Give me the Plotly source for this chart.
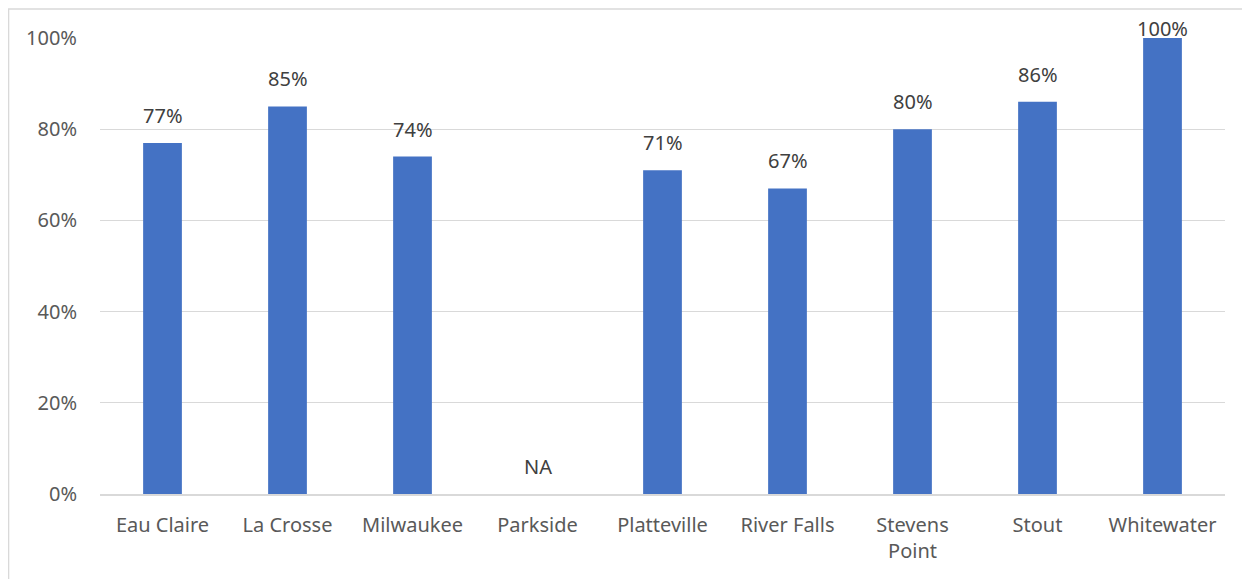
import plotly.graph_objects as go

campuses = ["Eau Claire", "La Crosse", "Milwaukee", "Parkside", "Platteville",
            "River Falls", "Stevens<br>Point", "Stout", "Whitewater"]
values = [77, 85, 74, None, 71, 67, 80, 86, 100]
labels = [f"{v}%" if v is not None else "NA" for v in values]
plot_values = [v if v is not None else 0 for v in values]
y_ticks = [0, 20, 40, 60, 80, 100]
y_tick_text = [f"{t}%" for t in y_ticks]

FONT = "Noto Sans"
GRAY = "#595959"
FS = 20

fig = go.Figure(go.Bar(
    x=campuses, y=plot_values,
    marker=dict(color="#4472C4", line=dict(width=0)),
    cliponaxis=False, showlegend=False, hoverinfo="x+y",
))

ymax = 100
annotations = []
for c, v, t in zip(campuses, plot_values, labels):
    annotations.append(dict(
        x=c, y=v, xref="x", yref="y", text=t, showarrow=False,
        yanchor="bottom", yshift=(-6 if v >= ymax else 12),
        font=dict(family=FONT, size=FS, color="#404040"),
    ))

fig.update_layout(
    width=1250, height=579,
    margin=dict(l=92, r=33, t=30, b=93),
    paper_bgcolor="white", plot_bgcolor="white",
    bargap=0.69,
    font=dict(family=FONT, size=FS, color=GRAY),
    annotations=annotations,
    shapes=[dict(type="rect", xref="paper", yref="paper",
                 x0=-0.0813, x1=1.2, y0=-0.5, y1=1.0636,
                 line=dict(color="#d9d9d9", width=1.5), layer="below")],
)
fig.update_xaxes(showgrid=False, showline=True, linecolor="#d9d9d9", linewidth=1.5,
                 ticks="", tickfont=dict(family=FONT, size=FS, color=GRAY),
                 ticklabelstandoff=12)
fig.update_yaxes(range=[0, ymax], tickvals=y_ticks, ticktext=y_tick_text,
                 showgrid=True, gridcolor="#d9d9d9", gridwidth=1,
                 zeroline=False, showline=False, ticks="",
                 tickfont=dict(family=FONT, size=FS, color=GRAY),
                 ticklabelstandoff=22)

fig.write_html("out.html")
